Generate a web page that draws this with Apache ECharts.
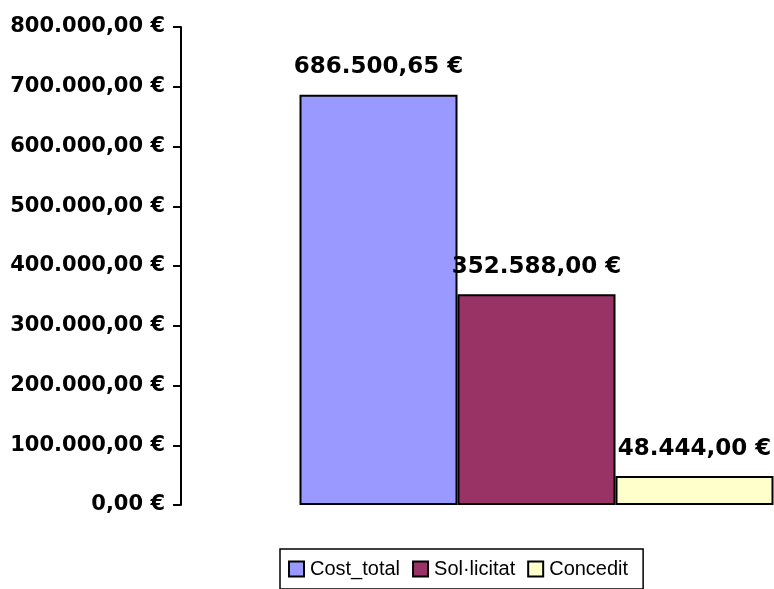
<!DOCTYPE html>
<html>
<head>
<meta charset="utf-8">
<script src="https://cdn.jsdelivr.net/npm/echarts@6/dist/echarts.min.js"></script>
<style>
  html, body { margin: 0; padding: 0; background: #fff; }
  #chart { width: 774px; height: 589px; }
</style>
</head>
<body>
<div id="chart"></div>
<script>
const categories = ["Import"]
const seriesNames = ["Cost_total", "Sol·licitat", "Concedit"]
const seriesValues = [686500.65, 352588.0, 48444.0]
const seriesColors = ["#9999ff", "#993366", "#ffffcc"]

// 1234567.8 -> "1.234.567,80 €"
function euro(v) {
  const [int, dec] = Number(v).toFixed(2).split(".")
  return int.replace(/\B(?=(\d{3})+(?!\d))/g, ".") + "," + dec + " €"
}

const chart = echarts.init(document.getElementById("chart"), null, { renderer: "canvas" })

chart.setOption({
  backgroundColor: "#fff",
  animation: false,
  // plot area runs past the right edge of the picture, like the original
  grid: { left: 181, right: -118, top: 27, bottom: 84, outerBoundsMode: "none" },
  legend: {
    left: 280,
    top: 549,
    orient: "horizontal",
    icon: "rect",
    itemWidth: 15,
    itemHeight: 15,
    itemGap: 12,
    padding: [10, 15, 10, 8],
    borderColor: "#000",
    borderWidth: 1.5,
    textStyle: { fontFamily: "Liberation Sans, Arial", fontSize: 20, color: "#000", padding: [0, 0, 0, 1] },
    data: seriesNames,
  },
  xAxis: {
    type: "category",
    data: categories,
    axisLine: { show: false },
    axisTick: { show: false },
    axisLabel: { show: false },
  },
  yAxis: {
    type: "value",
    min: 0,
    max: 800000,
    interval: 100000,
    splitLine: { show: false },
    axisLine: { show: true, lineStyle: { color: "#000", width: 2 } },
    axisTick: { show: true, length: 8, lineStyle: { color: "#000", width: 2 } },
    axisLabel: {
      margin: 16,
      color: "#000",
      fontFamily: "DejaVu Sans",
      fontWeight: "bold",
      fontSize: 21,
      formatter: (v) => euro(v),
    },
  },
  series: seriesNames.map((name, i) => ({
    name,
    type: "bar",
    data: [seriesValues[i]],
    barWidth: 158,
    barGap: "0%",
    itemStyle: { color: seriesColors[i], borderColor: "#000", borderWidth: 2 },
    label: {
      show: true,
      position: "top",
      distance: 16,
      color: "#000",
      fontFamily: "DejaVu Sans",
      fontWeight: "bold",
      fontSize: 23,
      formatter: (p) => euro(p.value),
    },
  })),
})
</script>
</body>
</html>
